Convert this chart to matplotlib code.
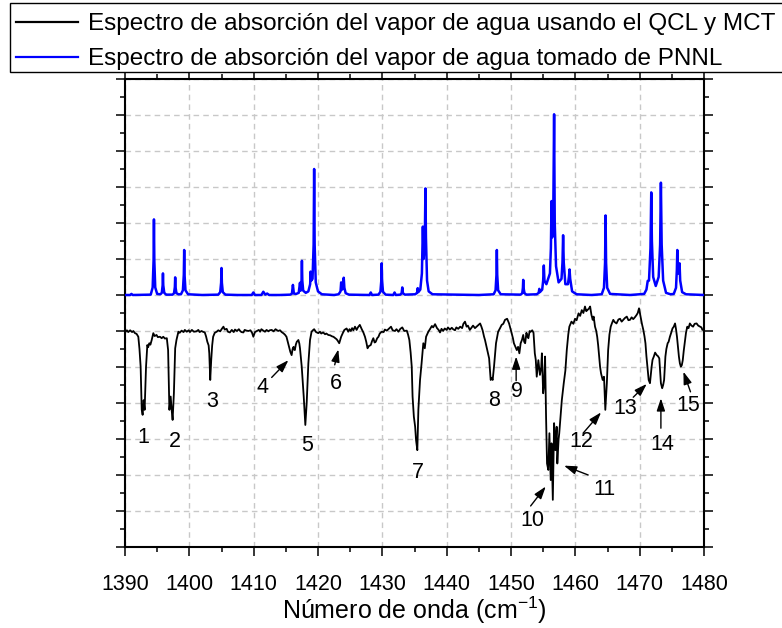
import matplotlib
matplotlib.use("Agg")
import matplotlib.pyplot as plt
from matplotlib.patches import Rectangle
from matplotlib.ticker import MultipleLocator, NullFormatter

plt.rcParams['font.family'] = ['Liberation Sans', 'DejaVu Sans']
plt.rcParams['mathtext.default'] = 'regular'

# ---------------- data ----------------
legend_labels = ["Espectro de absorción del vapor de agua usando el QCL y MCT",
                 "Espectro de absorción del vapor de agua tomado de PNNL"]

# Measured spectrum (QCL + MCT), offset scale, points along the trace
qcl_points = [
    (1390.0,5.96),(1390.3,6.02),(1390.5,5.97),(1390.8,6.02),(1391.1,5.97),(1391.3,6.0),(1391.55,5.94),
    (1391.8,5.92),(1392.07,5.84),(1392.25,5.5),(1392.43,5.01),(1392.6,3.81),(1392.74,3.67),(1392.9,4.08),
    (1393.05,3.81),(1393.27,5.01),(1393.47,5.61),(1393.6,5.55),(1393.78,5.66),(1393.95,5.62),(1394.15,5.75),
    (1394.4,5.94),(1394.6,5.86),(1394.9,5.89),(1395.1,5.83),(1395.44,5.84),(1395.7,5.80),(1395.95,5.84),
    (1396.2,5.79),(1396.5,5.80),(1396.7,5.47),(1396.9,3.81),(1397.1,4.18),(1397.25,3.81),(1397.4,3.53),
    (1397.6,4.27),(1397.8,5.52),(1398.0,5.75),(1398.3,5.98),(1398.5,5.95),(1398.8,6.01),(1399.1,5.97),
    (1399.3,6.03),(1399.6,5.98),(1399.9,6.02),(1400.1,5.97),(1400.4,6.03),(1400.7,5.98),(1401.1,5.99),
    (1401.4,6.03),(1401.6,5.97),(1401.9,6.0),(1402.1,5.98),(1402.4,5.96),(1402.6,5.85),(1402.8,5.70),
    (1403.0,5.6),(1403.1,5.38),(1403.25,4.64),(1403.4,5.19),(1403.55,5.6),(1403.7,5.84),(1403.95,5.95),
    (1404.25,5.98),(1404.5,6.02),(1404.8,5.99),(1405.05,6.06),(1405.3,6.12),(1405.5,6.04),(1405.8,6.06),
    (1406.0,5.98),(1406.3,5.96),(1406.6,6.03),(1406.9,5.97),(1407.1,6.04),(1407.4,6.0),(1407.7,6.05),
    (1407.9,6.0),(1408.1,5.97),(1408.4,5.96),(1408.6,6.03),(1408.9,6.01),(1409.2,6.0),(1409.5,6.02),
    (1409.75,5.95),(1409.95,5.84),(1410.2,5.97),(1410.5,6.0),(1410.8,6.03),(1411.0,5.98),(1411.2,6.05),
    (1411.5,6.01),(1411.76,5.98),(1412.0,6.03),(1412.3,5.99),(1412.5,6.02),(1412.8,6.03),(1413.1,5.99),
    (1413.4,6.05),(1413.8,6.0),(1414.1,6.02),(1414.35,5.97),(1414.6,5.94),(1414.85,5.9),(1415.1,5.84),
    (1415.3,5.7),(1415.5,5.56),(1415.7,5.42),(1415.9,5.33),(1416.05,5.5),(1416.2,5.56),(1416.3,5.48),
    (1416.4,5.47),(1416.55,5.62),(1416.7,5.70),(1416.95,5.75),(1417.1,5.65),(1417.2,5.52),(1417.47,5.01),
    (1417.78,4.18),(1418.03,3.39),(1418.24,3.99),(1418.5,5.10),(1418.76,5.75),(1419.0,5.98),(1419.2,6.02),
    (1419.4,6.05),(1419.7,5.97),(1420.05,5.94),(1420.3,5.98),(1420.5,5.93),(1420.8,5.96),(1421.1,5.91),
    (1421.3,5.93),(1421.6,5.89),(1421.9,5.88),(1422.2,5.85),(1422.4,5.84),(1422.7,5.8),(1422.9,5.77),
    (1423.1,5.72),(1423.3,5.66),(1423.45,5.75),(1423.6,5.84),(1423.9,5.96),(1424.1,6.03),(1424.45,6.07),
    (1424.7,5.98),(1424.9,6.05),(1425.1,6.0),(1425.3,6.08),(1425.5,6.02),(1425.75,6.12),(1426.0,6.03),
    (1426.2,6.1),(1426.5,6.17),(1426.8,6.05),(1427.05,5.96),(1427.3,5.84),(1427.5,5.7),(1427.7,5.52),
    (1427.9,5.58),(1428.2,5.61),(1428.4,5.72),(1428.6,5.80),(1428.8,5.68),(1428.97,5.70),(1429.2,5.8),
    (1429.4,5.84),(1429.6,5.93),(1429.9,5.98),(1430.2,5.97),(1430.4,6.04),(1430.7,6.01),(1431.0,6.06),
    (1431.35,6.12),(1431.6,6.02),(1431.97,6.0),(1432.2,6.05),(1432.5,5.98),(1432.8,6.06),(1433.1,6.10),
    (1433.4,6.0),(1433.8,6.01),(1434.0,5.9),(1434.2,5.75),(1434.4,5.4),(1434.57,5.01),(1434.7,4.18),
    (1434.9,3.62),(1435.1,3.34),(1435.24,2.97),(1435.44,2.69),(1435.6,3.81),(1435.86,4.64),(1436.1,5.10),
    (1436.37,5.66),(1436.6,5.52),(1436.8,5.84),(1437.15,5.98),(1437.4,6.05),(1437.7,6.14),(1437.9,6.1),
    (1438.2,6.19),(1438.5,6.08),(1438.75,6.03),(1438.97,5.96),(1439.2,6.06),(1439.45,6.0),(1439.7,6.07),
    (1440.0,6.03),(1440.2,6.1),(1440.5,6.04),(1440.8,6.09),(1441.0,6.05),(1441.3,6.02),(1441.5,6.1),
    (1441.8,6.06),(1442.1,6.12),(1442.4,6.08),(1442.6,6.2),(1442.85,6.26),(1443.1,6.12),(1443.3,6.15),
    (1443.6,6.03),(1443.9,6.1),(1444.1,6.15),(1444.4,6.08),(1444.7,6.13),(1445.0,6.18),(1445.2,6.21),
    (1445.4,6.12),(1445.6,6.01),(1445.8,5.85),(1445.96,5.75),(1446.15,5.6),(1446.3,5.47),(1446.45,5.35),
    (1446.6,5.24),(1446.84,4.64),(1447.0,4.7),(1447.15,4.64),(1447.36,5.01),(1447.67,5.66),(1448.0,5.98),
    (1448.3,6.08),(1448.55,6.17),(1448.8,6.2),(1449.07,6.31),(1449.4,6.34),(1449.7,6.21),(1449.9,6.08),
    (1450.1,5.94),(1450.3,5.8),(1450.45,5.66),(1450.7,5.55),(1450.9,5.47),(1451.1,5.56),(1451.3,5.38),
    (1451.5,5.66),(1451.7,5.75),(1451.9,5.89),(1452.05,5.7),(1452.2,5.66),(1452.4,5.95),(1452.55,5.85),
    (1452.7,5.80),(1452.9,6.0),(1453.07,5.98),(1453.3,6.02),(1453.5,5.95),(1453.7,5.38),(1453.85,5.2),
    (1454.0,4.73),(1454.25,5.19),(1454.5,4.78),(1454.7,5.0),(1454.8,5.38),(1455.0,4.27),(1455.15,4.5),
    (1455.3,5.29),(1455.45,3.62),(1455.6,2.32),(1455.8,2.14),(1455.97,3.16),(1456.17,1.86),(1456.3,2.88),
    (1456.5,1.31),(1456.7,3.44),(1456.9,2.69),(1457.1,3.34),(1457.2,2.32),(1457.4,3.0),(1457.5,3.16),
    (1457.9,4.08),(1458.2,4.55),(1458.45,4.9),(1458.67,5.47),(1458.9,5.9),(1459.07,6.12),(1459.4,6.26),
    (1459.7,6.2),(1459.95,6.34),(1460.2,6.3),(1460.5,6.49),(1460.75,6.42),(1461.0,6.58),(1461.25,6.5),
    (1461.5,6.68),(1461.7,6.55),(1461.86,6.58),(1462.1,6.62),(1462.3,6.68),(1462.5,6.45),(1462.7,6.31),
    (1462.85,6.4),(1463.06,6.12),(1463.25,6.0),(1463.4,5.84),(1463.55,5.6),(1463.7,5.29),(1463.85,5.0),
    (1464.0,4.82),(1464.25,4.64),(1464.46,4.73),(1464.66,3.81),(1464.9,4.55),(1465.1,5.47),(1465.3,5.9),
    (1465.5,6.12),(1465.7,6.22),(1465.9,6.31),(1466.1,6.25),(1466.4,6.21),(1466.7,6.32),(1466.95,6.34),
    (1467.2,6.26),(1467.46,6.31),(1467.7,6.36),(1468.0,6.40),(1468.25,6.3),(1468.5,6.31),(1468.75,6.38),
    (1469.0,6.33),(1469.25,6.38),(1469.5,6.44),(1469.7,6.5),(1469.9,6.63),(1470.15,6.40),(1470.35,6.2),
    (1470.57,6.03),(1470.75,5.85),(1470.9,5.66),(1471.05,5.3),(1471.2,5.01),(1471.4,4.64),(1471.6,4.55),
    (1471.86,5.01),(1472.0,5.2),(1472.2,5.29),(1472.4,5.4),(1472.65,5.33),(1472.85,5.3),(1473.05,5.24),
    (1473.2,4.8),(1473.3,4.55),(1473.5,4.41),(1473.65,4.5),(1473.8,4.64),(1474.0,5.29),(1474.15,5.5),
    (1474.35,5.66),(1474.5,5.7),(1474.7,5.84),(1474.9,5.95),(1475.1,6.07),(1475.3,6.12),(1475.5,6.21),
    (1475.65,6.05),(1475.8,5.84),(1475.95,5.55),(1476.1,5.29),(1476.25,5.1),(1476.4,5.01),(1476.55,5.05),
    (1476.7,5.19),(1476.85,5.45),(1477.05,5.75),(1477.2,5.95),(1477.4,6.12),(1477.6,6.08),(1477.8,6.21),
    (1478.05,6.15),(1478.3,6.12),(1478.55,6.2),(1478.85,6.21),(1479.1,6.15),(1479.4,6.12),(1479.6,6.1),
    (1479.75,6.03),(1480.0,6.05),
]

# Reference spectrum (PNNL), offset scale, points along the trace
pnnl_points = [
    (1390.0,7.0),(1390.8,7.0),(1391.0,7.03),(1391.2,7.0),(1393.7,7.01),
    (1394.0,7.01),(1394.3,7.21),(1394.44,7.95),(1394.5,9.10),(1394.56,7.95),(1394.7,7.21),(1395.0,7.03),
    (1395.5,7.02),(1395.72,7.06),(1395.85,7.27),(1395.9,7.60),(1395.95,7.27),(1396.1,7.06),(1396.4,7.01),
    (1397.4,7.01),(1397.62,7.05),(1397.75,7.22),(1397.8,7.49),(1397.85,7.22),(1398.0,7.05),(1398.3,7.02),
    (1398.7,7.02),(1399.0,7.13),(1399.14,7.56),(1399.2,8.25),(1399.26,7.56),(1399.4,7.13),(1399.8,7.02),
    (1402.0,7.0),
    (1404.5,7.01),(1404.8,7.08),(1404.94,7.34),(1405.0,7.75),(1405.06,7.34),(1405.2,7.08),(1405.6,7.01),
    (1407.5,7.0),
    (1409.7,7.0),(1409.95,7.07),(1410.2,7.0),
    (1411.2,7.0),(1411.5,7.09),(1411.8,7.01),(1412.1,7.04),(1412.4,7.0),
    (1414.0,7.0),
    (1415.7,7.01),(1415.95,7.04),(1416.1,7.28),(1416.25,7.04),(1416.6,7.03),
    (1417.0,7.06),(1417.2,7.34),(1417.3,7.12),(1417.44,7.4),(1417.5,7.95),(1417.56,7.4),(1417.7,7.12),(1418.1,7.06),
    (1418.5,7.1),(1418.78,7.3),(1418.85,7.65),(1418.95,7.4),(1419.15,7.45),(1419.32,8.4),(1419.4,10.5),
    (1419.48,8.4),(1419.65,7.35),(1420.0,7.1),(1420.6,7.02),
    (1422.5,7.0),
    (1423.2,7.02),(1423.5,7.1),(1423.6,7.35),(1423.75,7.15),(1423.92,7.2),(1424.0,7.48),(1424.1,7.2),
    (1424.3,7.05),(1424.8,7.01),
    (1427.5,7.0),
    (1428.0,7.0),(1428.2,7.07),(1428.4,7.0),
    (1429.4,7.01),(1429.7,7.09),(1429.84,7.4),(1429.9,7.88),(1429.96,7.4),(1430.1,7.09),(1430.5,7.01),
    (1431.7,7.0),(1431.9,7.07),(1432.1,7.0),
    (1432.8,7.01),(1433.0,7.05),(1433.1,7.21),(1433.2,7.05),(1433.5,7.01),
    (1435.1,7.02),(1435.4,7.06),(1435.5,7.19),(1435.6,7.08),(1435.9,7.15),(1436.15,7.6),(1436.3,8.9),
    (1436.42,8.0),(1436.6,8.5),(1436.7,9.96),(1436.78,8.6),(1436.95,7.4),(1437.2,7.1),(1437.8,7.02),
    (1445.0,7.0),
    (1447.3,7.02),(1447.6,7.13),(1447.74,7.56),(1447.8,8.25),(1447.86,7.56),(1448.0,7.13),(1448.4,7.02),
    (1451.5,7.01),(1451.75,7.05),(1451.85,7.2),(1451.9,7.42),(1451.95,7.2),(1452.1,7.05),(1452.4,7.01),
    (1454.0,7.02),(1454.3,7.06),(1454.4,7.17),(1454.5,7.08),(1454.85,7.15),(1455.0,7.4),(1455.1,7.82),
    (1455.2,7.4),(1455.5,7.3),(1456.05,7.6),(1456.2,8.3),(1456.3,9.61),(1456.4,8.6),(1456.55,8.8),
    (1456.7,12.02),(1456.8,9.0),(1457.0,7.8),(1457.4,7.35),(1457.85,7.45),(1458.0,7.9),(1458.1,8.66),
    (1458.2,7.9),(1458.45,7.3),(1458.85,7.3),(1459.0,7.5),(1459.1,7.71),(1459.2,7.45),(1459.5,7.1),(1460.2,7.02),
    (1462.5,7.0),
    (1464.1,7.02),(1464.45,7.2),(1464.62,7.9),(1464.7,9.21),(1464.78,7.9),(1464.95,7.2),(1465.4,7.03),
    (1468.5,7.0),
    (1470.7,7.03),(1471.05,7.15),(1471.25,7.39),(1471.45,7.4),(1471.68,8.3),(1471.8,9.85),(1471.9,8.5),
    (1472.1,7.5),(1472.5,7.25),(1472.95,7.5),(1473.18,8.4),(1473.3,10.12),(1473.42,8.4),(1473.65,7.4),
    (1474.1,7.06),(1474.8,7.02),
    (1475.3,7.03),(1475.65,7.2),(1475.78,7.7),(1475.85,8.25),(1475.95,7.6),(1476.1,7.6),(1476.2,7.88),
    (1476.3,7.4),(1476.6,7.08),(1477.2,7.02),
    (1480.0,7.0),
]

# Peak labels: text, text position, arrow tail, arrow head (None = no arrow)
peak_labels = ["1", "2", "3", "4", "5", "6", "7", "8", "9", "10", "11", "12", "13", "14", "15"]
label_pos = [(1392.8, 3.03), (1397.8, 2.94), (1403.5, 4.03), (1411.3, 4.44), (1418.3, 2.81),
             (1422.8, 4.53), (1435.55, 2.08), (1447.4, 4.08), (1450.9, 4.31), (1453.3, 0.75),
             (1464.6, 1.61), (1461.0, 2.94), (1467.7, 3.86), (1473.5, 2.86), (1477.5, 3.94)]
arrow_tail = [None, None, None, (1412.8, 4.71), None, (1422.6, 5.06), None, None, (1450.8, 4.62),
              (1453.05, 1.14), (1462.0, 2.0), (1461.2, 3.16), (1469.0, 4.16), (1473.3, 3.30), (1477.9, 4.31)]
arrow_head = [None, None, None, (1415.4, 5.19), None, (1423.16, 5.49), None, None, (1450.8, 5.29),
              (1455.4, 1.68), (1458.24, 2.26), (1464.0, 3.74), (1471.1, 4.53), (1473.3, 4.13), (1476.8, 4.87)]

x_ticks = [1390, 1400, 1410, 1420, 1430, 1440, 1450, 1460, 1470, 1480]

# ---------------- figure ----------------
W, H = 782, 628
fig = plt.figure(figsize=(W/100, H/100), dpi=100)
ax = fig.add_axes([125/W, 1-547/H, (704-125)/W, (547-79)/H])

qx = [p[0] for p in qcl_points]
qy = [p[1] for p in qcl_points]
bx = [p[0] for p in pnnl_points]
by = [p[1] for p in pnnl_points]

l1, = ax.plot(qx, qy, color='black', lw=1.3, zorder=3)
l2, = ax.plot(bx, by, color='#0000ff', lw=1.8, zorder=3)

ax.set_xlim(1390, 1480)
ax.set_ylim(0, 13)
ax.set_xticks(x_ticks)
ax.xaxis.set_minor_locator(MultipleLocator(5))
ax.yaxis.set_major_locator(MultipleLocator(1))
ax.yaxis.set_minor_locator(MultipleLocator(0.5))
ax.yaxis.set_major_formatter(NullFormatter())

ax.tick_params(which='both', direction='out', top=True, right=True, width=1.1, labelsize=15.5,
               labeltop=False, labelright=False, labelleft=False)
ax.tick_params(which='major', length=6.5)
ax.tick_params(which='minor', length=3.5)
ax.tick_params(axis='x', pad=13)

for s in ax.spines.values():
    s.set_linewidth(1.5)

ax.grid(True, which='major', color='#c8c8c8', linestyle=(0, (4, 3)), linewidth=1.0, zorder=0)
ax.set_axisbelow(True)

ax.set_xlabel(r'Número de onda (cm$^{\mathregular{-1}}$)', fontsize=18)
ax.xaxis.set_label_coords(0.5, -0.102)

for i, t in enumerate(peak_labels):
    ax.text(label_pos[i][0], label_pos[i][1], t, fontsize=15.5, ha='center', va='center', zorder=4)
    if arrow_tail[i] is not None:
        ax.annotate('', xy=arrow_head[i], xytext=arrow_tail[i],
                    arrowprops=dict(arrowstyle='-|>,head_length=0.75,head_width=0.25',
                                    color='black', lw=1.0, shrinkA=0, shrinkB=0), zorder=4)

# legend frame (box runs past the right edge, as in the reference)
fig.patches.append(Rectangle((10/W, 1-72/H), 800/W, 69/H, transform=fig.transFigure,
                             facecolor='white', edgecolor='black', linewidth=1.0, zorder=5))
leg = fig.legend([l1, l2], legend_labels, loc='upper left',
                 bbox_to_anchor=(10/W, 1-7/H), bbox_transform=fig.transFigure,
                 fontsize=17.5, frameon=False, borderpad=0.25, labelspacing=0.55,
                 handlelength=2.55, handletextpad=0.4, borderaxespad=0)
leg.set_zorder(6)
for h in leg.get_lines():
    h.set_linewidth(1.6)

fig.savefig('out.png', dpi=100)
